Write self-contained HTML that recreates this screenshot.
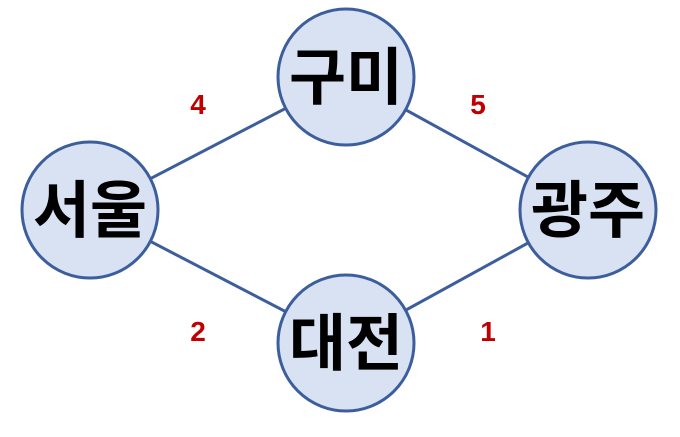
<!DOCTYPE html>
<html><head><meta charset="utf-8"><style>
body{margin:0;background:#fff;width:680px;height:432px;overflow:hidden}
svg text{font-family:"Liberation Sans","Noto Sans CJK KR",sans-serif;font-weight:bold}
</style></head><body>
<svg width="680" height="432">
<g id="edges"></g>
<g id="nodes"></g>
<g id="labels"></g>
</svg>
<script>
const nodeNames=["구미","서울","광주","대전"];
const nodeX=[346,90,588,346];
const nodeY=[77,210,210,343];
const edgeFrom=[1,0,1,3];
const edgeTo=[0,2,3,2];
const edgeWeights=["4","5","2","1"];
const weightX=[198,478,198,488];
const weightY=[104,104,331,331];
const NS="http://www.w3.org/2000/svg";
const E=document.getElementById('edges'),N=document.getElementById('nodes'),L=document.getElementById('labels');
edgeFrom.forEach((f,i)=>{const t=edgeTo[i];const l=document.createElementNS(NS,'line');
l.setAttribute('x1',nodeX[f]);l.setAttribute('y1',nodeY[f]);l.setAttribute('x2',nodeX[t]);l.setAttribute('y2',nodeY[t]);
l.setAttribute('stroke','#3d5e9c');l.setAttribute('stroke-width','3');


E.appendChild(l);
const w=document.createElementNS(NS,'text');w.setAttribute('x',weightX[i]);w.setAttribute('y',weightY[i]+10);
w.setAttribute('text-anchor','middle');w.setAttribute('font-size','28');w.setAttribute('fill','#c00000');w.textContent=edgeWeights[i];


L.appendChild(w);});
nodeNames.forEach((n,i)=>{const g=document.createElementNS(NS,'g');


const c=document.createElementNS(NS,'circle');c.setAttribute('cx',nodeX[i]);c.setAttribute('cy',nodeY[i]);c.setAttribute('r','68');
c.setAttribute('fill','#d9e2f3');c.setAttribute('stroke','#3d5e9c');c.setAttribute('stroke-width','3');g.appendChild(c);
const t=document.createElementNS(NS,'text');t.setAttribute('x',nodeX[i]);t.setAttribute('y',nodeY[i]+22);t.setAttribute('text-anchor','middle');
t.setAttribute('font-size','62');t.setAttribute('fill','#000');t.textContent=n;g.appendChild(t);N.appendChild(g);});
</script>
</body></html>
